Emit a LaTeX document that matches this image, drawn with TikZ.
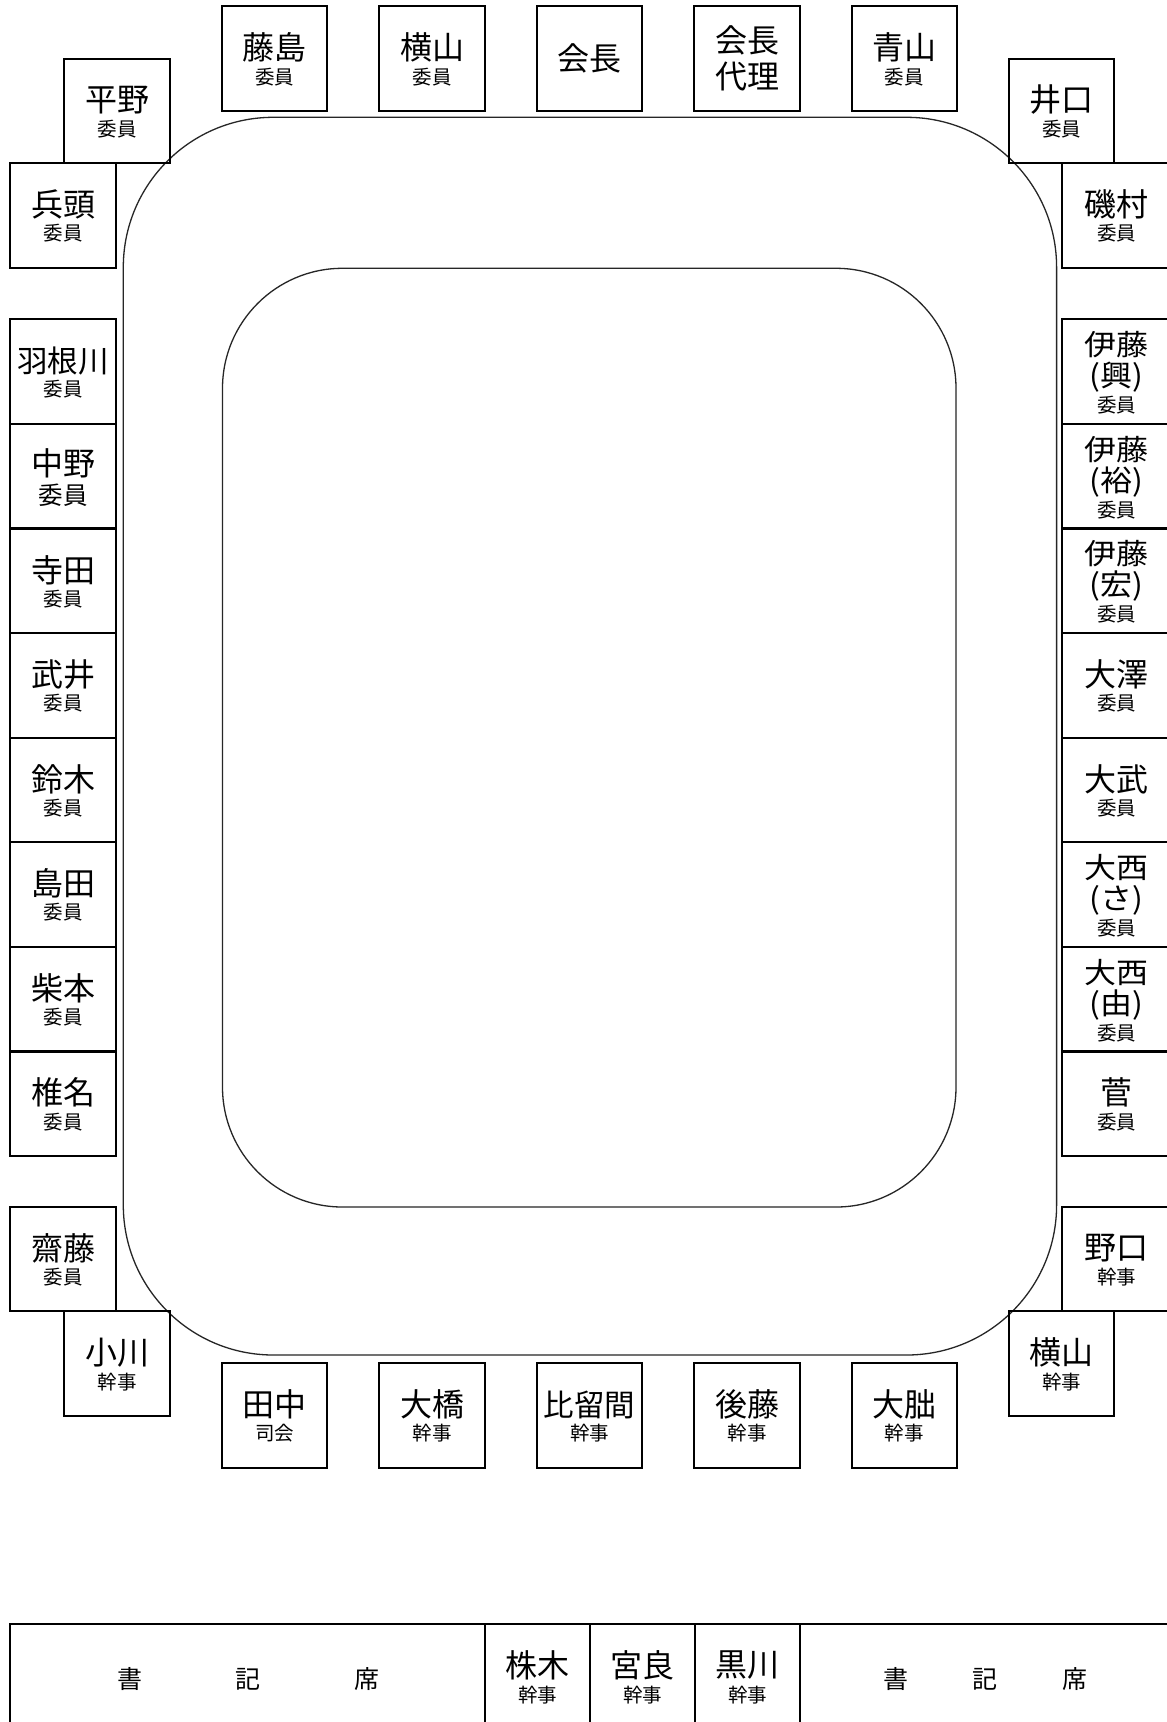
\documentclass[tikz,border=0pt]{standalone}
\usepackage{fontspec}
\setmainfont{Noto Sans CJK JP}
\usepackage{graphicx}
\tikzset{
  seat/.style={draw=black, line width=2pt, minimum width=105.5pt, minimum height=104.5pt, inner sep=0pt},
  seatR/.style={seat, minimum width=112pt, xshift=1pt},
  seatcur/.style={seat},
  nm/.style={inner sep=0pt, font=\fontsize{32}{36}\selectfont},
  nmthree/.style={inner sep=0pt, font=\fontsize{30.5}{34}\selectfont},
  rl/.style={inner sep=0pt, font=\fontsize{19.5}{22}\selectfont},
  rlbig/.style={inner sep=0pt, font=\fontsize{24.5}{28}\selectfont},
  clerk/.style={inner sep=0pt, font=\fontsize{25}{28}\selectfont},
  track/.style={draw=black!85, line width=1.3pt, inner sep=0pt},
  cell/.style={draw=black, line width=2pt, inner sep=0pt, minimum height=135.7pt},
}
% two-line seat: name + role
\newcommand\seatII[6][nm]{%
  \node[seatcur] (#2) at (#3,#4) {};
  \node[#1] (#2-n) at (#3,#4-11) {#5};
  \node[rl] (#2-r) at (#3,#4+18) {#6};}
% three-line seat: name + (paren) + role
\newcommand\seatIII[6]{%
  \node[seatcur] (#1) at (#2,#3) {};
  \node[nm] (#1-n) at (#2,#3-27) {\scalebox{1}[0.9]{#4}};
  \node[nm] (#1-p) at (#2,#3+5.5) {\scalebox{1}[0.92]{(#5)}};
  \node[rl] (#1-r) at (#2,#3+33.5) {#6};}
\begin{document}
\begin{tikzpicture}[x=1pt, y=-1pt]
\fill[white] (0,0) rectangle (1167,1722);
\useasboundingbox (0,0) rectangle (1167,1722);
\clip (0,0) rectangle (1167,1722);

% tables
\node[track, rounded corners=150pt, minimum width=933.3pt, minimum height=1237.7pt] (outer) at (589.95,736.15) {};
\node[track, rounded corners=120pt, minimum width=733.5pt, minimum height=938.7pt] (inner) at (589.25,737.65) {};

% top row
\seatII{fujishima}{274.5}{58.7}{藤島}{委員}
\seatII{yokoyama}{432.2}{58.7}{横山}{委員}
\node[seat] (kaicho) at (589.5,58.7) {};
\node[nm] (kaicho-n) at (589.5,58.2) {会長};
\node[seat] (dairi) at (747.2,58.7) {};
\node[nm] (dairi-a) at (747.2,40.2) {会長};
\node[nm] (dairi-b) at (747.2,76.7) {代理};
\seatII{aoyama}{904.4}{58.7}{青山}{委員}

% corners top
\seatII{hirano}{117.2}{111}{平野}{委員}
\seatII{iguchi}{1061.5}{111}{井口}{委員}
\seatII{hyodo}{63}{215.5}{兵頭}{委員}

% left column
\seatII[nmthree]{hanegawa}{63}{371.6}{羽根川}{委員}
\node[seat] (nakano) at (63,476.2) {};
\node[nm] (nakano-n) at (63,463.7) {中野};
\node[rlbig] (nakano-r) at (63,495.2) {委員};
\seatII{terada}{63}{580.8}{寺田}{委員}
\seatII{takei}{63}{685.4}{武井}{委員}
\seatII{suzuki}{63}{790.0}{鈴木}{委員}
\seatII{shimada}{63}{894.6}{島田}{委員}
\seatII{shibamoto}{63}{999.2}{柴本}{委員}
\seatII{shiina}{63}{1103.8}{椎名}{委員}
\seatII{saito}{63}{1259.2}{齋藤}{委員}

% corners bottom
\seatII{ogawa}{117.2}{1363.7}{小川}{幹事}
\seatII{yokoyamak}{1061.5}{1363.7}{横山}{幹事}

% bottom row
\seatII{tanaka}{274.5}{1415.5}{田中}{司会}
\seatII{ohashi}{432.2}{1415.5}{大橋}{幹事}
\seatII[nmthree]{hiruma}{589.5}{1415.5}{比留間}{幹事}
\seatII{goto}{747.2}{1415.5}{後藤}{幹事}
\seatII{ohi}{904.4}{1415.5}{大朏}{幹事}

% right column (boxes run past the right edge)
\tikzset{seatcur/.style={seatR}}
\seatII{isomura}{1116.5}{215.5}{磯村}{委員}
\seatIII{itoko}{1116.5}{371.6}{伊藤}{興}{委員}
\seatIII{itoyu}{1116.5}{476.2}{伊藤}{裕}{委員}
\seatIII{itoh}{1116.5}{580.8}{伊藤}{宏}{委員}
\seatII{osawa}{1116.5}{685.4}{大澤}{委員}
\seatII{otake}{1116.5}{790.0}{大武}{委員}
\seatIII{onishisa}{1116.5}{894.6}{大西}{さ}{委員}
\seatIII{onishiyu}{1116.5}{999.2}{大西}{由}{委員}
\seatII{suga}{1116.5}{1103.8}{菅}{委員}
\seatII{noguchi}{1116.5}{1259.2}{野口}{幹事}

% clerk table
\node[cell, minimum width=475.6pt] (cellL) at (247.5,1692.15) {};
\node[cell, minimum width=104.9pt] (cell1) at (537.75,1692.15) {};
\node[cell, minimum width=104.9pt] (cell2) at (642.65,1692.15) {};
\node[cell, minimum width=105pt] (cell3) at (747.6,1692.15) {};
\node[cell, minimum width=379.9pt] (cellR) at (990.05,1692.15) {};

\node[clerk] (cl1) at (130,1679) {書};
\node[clerk] (cl2) at (248,1679) {記};
\node[clerk] (cl3) at (367,1679) {席};
\node[clerk] (cr1) at (896,1679) {書};
\node[clerk] (cr2) at (985,1679) {記};
\node[clerk] (cr3) at (1075,1679) {席};

\node[nm] (kabuki-n) at (537.75,1665) {株木};
\node[rl] (kabuki-r) at (537.75,1695) {幹事};
\node[nm] (mera-n) at (642.65,1665) {宮良};
\node[rl] (mera-r) at (642.65,1695) {幹事};
\node[nm] (kurokawa-n) at (747.6,1665) {黒川};
\node[rl] (kurokawa-r) at (747.6,1695) {幹事};
\end{tikzpicture}
\end{document}
